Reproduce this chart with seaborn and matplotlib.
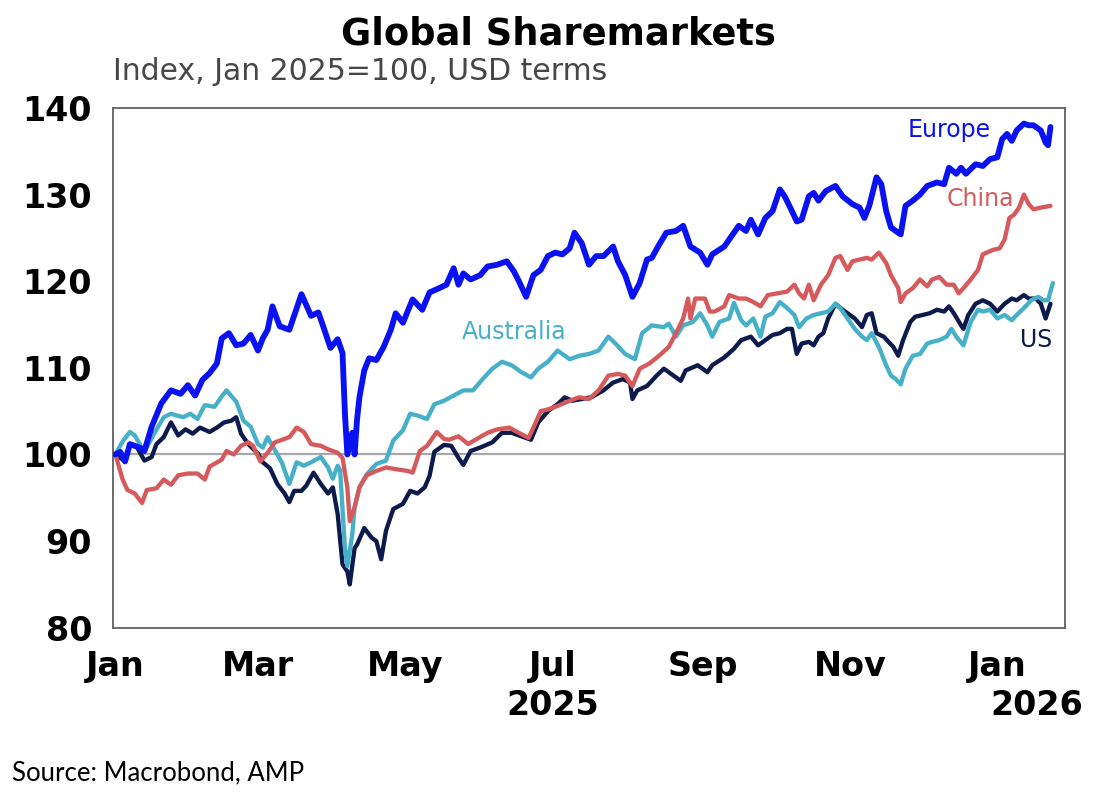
import numpy as np
import pandas as pd
import seaborn as sns
import matplotlib.pyplot as plt
import matplotlib.dates as mdates
import matplotlib.transforms as mtransforms

# index values, Jan 2025 = 100; days counted from 1 Jan 2025
start = pd.Timestamp("2025-01-01")

eu_day = [0, 2, 4, 6, 10, 12, 15, 19, 23, 27, 30, 33, 36, 39, 42, 44, 47, 50, 53, 56,
          59, 61, 63, 65, 68, 72, 77, 81, 84, 86, 89, 92, 94, 95, 96, 98, 99, 100, 101, 103,
          105, 108, 111, 114, 116, 119, 123, 127, 130, 134, 137, 140, 142, 144, 147, 151, 154, 158, 162, 165,
          167, 170, 173, 176, 179, 182, 185, 188, 190, 193, 196, 199, 202, 206, 208, 211, 214, 217, 220, 222,
          225, 228, 232, 235, 238, 242, 245, 247, 252, 256, 258, 261, 263, 266, 269, 272, 275, 277, 280, 282,
          284, 287, 289, 291, 294, 298, 301, 305, 308, 310, 312, 315, 317, 319, 321, 323, 325, 327, 330, 333,
          336, 340, 343, 345, 348, 350, 352, 356, 359, 362, 365, 367, 369, 371, 373, 376, 378, 380, 383, 385,
          386, 387]
eu_val = [100, 100.3, 99.2, 101.2, 100.8, 100.4, 103.2, 105.9, 107.4, 107.0, 108.0, 106.8, 108.6, 109.4, 110.5, 113.4, 114.0, 112.6, 112.8, 113.8,
          112.0, 113.4, 114.4, 117.1, 114.8, 114.4, 118.5, 116.0, 116.4, 114.8, 112.3, 113.3, 111.7, 104.7, 100.0, 102.5, 100.0, 104.0, 106.6, 109.7,
          111.1, 110.9, 112.4, 114.4, 116.3, 115.2, 117.9, 116.7, 118.7, 119.2, 119.6, 121.5, 119.6, 120.9, 120.2, 120.7, 121.7, 121.9, 122.3, 121.1,
          120.0, 118.2, 120.7, 121.3, 122.9, 123.3, 123.1, 123.8, 125.6, 124.4, 121.9, 122.9, 122.9, 124.0, 122.3, 120.7, 118.2, 119.8, 122.5, 122.7,
          124.2, 125.6, 125.8, 126.4, 124.0, 123.3, 121.9, 123.1, 124.0, 125.6, 126.4, 125.8, 127.1, 125.4, 127.3, 128.1, 130.6, 129.8, 128.1, 126.9,
          127.1, 129.8, 130.2, 129.3, 130.4, 131.0, 129.8, 128.9, 128.5, 127.3, 128.7, 132.0, 131.2, 128.1, 126.2, 125.8, 125.4, 128.7, 129.3, 130.0,
          131.0, 131.4, 131.2, 133.1, 132.4, 133.1, 132.4, 133.5, 133.3, 134.1, 134.3, 136.4, 137.0, 136.2, 137.4, 138.2, 138.0, 138.0, 137.4, 136.0,
          135.7, 137.8]

cn_day = [0, 3, 5, 8, 11, 13, 17, 20, 23, 26, 30, 34, 37, 39, 44, 46, 49, 52, 55, 57,
          60, 63, 66, 68, 72, 75, 78, 81, 85, 88, 92, 94, 96, 97, 99, 101, 104, 108, 112, 116,
          121, 123, 126, 129, 133, 136, 138, 142, 146, 149, 154, 158, 163, 167, 171, 174, 176, 179, 183, 188,
          192, 196, 200, 204, 208, 211, 214, 217, 221, 225, 229, 232, 235, 237, 238, 240, 244, 246, 248, 252,
          254, 258, 261, 264, 267, 270, 274, 278, 281, 283, 285, 287, 289, 292, 295, 298, 300, 303, 305, 308,
          311, 313, 316, 319, 321, 324, 325, 327, 330, 333, 336, 338, 341, 344, 347, 349, 351, 354, 357, 359,
          363, 366, 368, 370, 372, 374, 376, 378, 380, 383, 387]
cn_val = [100, 97.1, 95.9, 95.5, 94.4, 95.9, 96.1, 97.1, 96.5, 97.6, 97.8, 97.8, 97.1, 98.6, 99.4, 100.4, 100.0, 101.0, 101.4, 101.0,
          99.2, 100.2, 101.4, 101.6, 102.0, 103.1, 102.6, 101.2, 101.0, 100.6, 100.2, 99.6, 96.2, 92.3, 93.9, 96.2, 97.6, 98.1, 98.5, 98.3,
          98.1, 97.9, 100.4, 101.0, 102.6, 101.8, 101.7, 102.1, 101.2, 101.7, 102.5, 102.9, 103.1, 102.5, 101.9, 103.7, 105.0, 105.2, 105.6, 106.2,
          106.6, 106.4, 107.4, 109.1, 109.3, 109.1, 107.9, 109.9, 110.5, 111.4, 112.4, 114.0, 115.7, 118.0, 115.7, 118.0, 118.0, 116.5, 116.5, 117.1,
          118.4, 118.0, 118.0, 117.6, 117.1, 118.4, 118.6, 118.8, 119.6, 118.6, 118.0, 119.6, 117.8, 119.6, 120.7, 122.7, 122.9, 121.3, 122.3, 122.5,
          122.7, 122.5, 123.3, 122.1, 120.7, 119.2, 117.6, 118.6, 119.2, 120.2, 119.4, 120.2, 120.5, 119.6, 119.6, 118.6, 119.2, 120.2, 121.3, 123.1,
          123.6, 123.8, 124.8, 127.3, 127.7, 128.5, 130.0, 128.9, 128.3, 128.5, 128.7]

au_day = [0, 3, 6, 8, 12, 16, 20, 23, 28, 31, 34, 37, 41, 44, 46, 50, 53, 56, 59, 61,
          63, 67, 69, 72, 75, 78, 81, 85, 88, 90, 92, 93, 95, 96, 98, 99, 101, 104, 108, 112,
          115, 119, 122, 125, 129, 132, 136, 140, 144, 148, 152, 156, 160, 164, 168, 172, 175, 179, 183, 188,
          192, 196, 200, 204, 207, 211, 215, 218, 222, 227, 229, 232, 235, 239, 242, 245, 247, 250, 254, 256,
          259, 261, 264, 267, 269, 272, 275, 278, 281, 283, 286, 289, 292, 295, 298, 300, 303, 306, 309, 311,
          313, 316, 319, 321, 323, 325, 327, 330, 333, 336, 338, 341, 344, 346, 348, 351, 354, 357, 359, 362,
          365, 368, 371, 373, 376, 379, 382, 384, 386, 388]
au_val = [100, 101.5, 102.6, 102.2, 100.3, 102.4, 104.3, 104.7, 104.3, 104.7, 104.1, 105.7, 105.5, 106.7, 107.4, 106.1, 103.9, 103.2, 101.2, 100.8,
          102.0, 100.0, 99.0, 96.6, 99.1, 98.7, 99.1, 99.7, 98.5, 97.2, 98.7, 98.2, 89.2, 87.1, 90.7, 93.9, 96.2, 97.7, 98.9, 99.3,
          101.6, 102.8, 104.7, 104.5, 104.1, 105.8, 106.2, 106.8, 107.4, 107.4, 108.7, 109.9, 110.7, 110.3, 109.5, 108.9, 109.9, 110.7, 112.0, 111.0,
          111.4, 111.6, 112.0, 113.6, 112.8, 111.6, 111.0, 114.0, 114.9, 114.7, 115.1, 113.6, 114.9, 115.3, 116.3, 114.9, 113.6, 115.3, 115.7, 117.5,
          115.5, 114.9, 115.7, 113.6, 115.9, 116.3, 117.6, 116.9, 116.1, 114.7, 115.7, 116.1, 116.3, 116.5, 117.4, 116.9, 115.7, 114.5, 113.6, 113.2,
          114.0, 112.4, 110.3, 109.1, 108.7, 108.1, 109.9, 111.4, 111.6, 112.8, 113.0, 113.2, 113.6, 114.5, 113.6, 112.6, 115.3, 116.7, 116.5, 116.7,
          115.7, 116.1, 115.5, 116.1, 116.9, 117.8, 118.2, 117.8, 117.8, 119.8]

us_day = [0, 4, 6, 9, 12, 15, 17, 20, 23, 26, 29, 32, 35, 39, 42, 45, 48, 50, 52, 55,
          59, 61, 64, 67, 70, 72, 74, 77, 79, 82, 85, 88, 90, 92, 94, 96, 97, 99, 100, 103,
          106, 108, 110, 112, 115, 119, 122, 125, 128, 130, 132, 136, 139, 142, 144, 147, 151, 156, 160, 164,
          168, 172, 175, 179, 183, 186, 189, 193, 197, 202, 206, 210, 213, 214, 216, 220, 224, 227, 230, 234,
          236, 241, 245, 247, 252, 256, 259, 263, 266, 269, 272, 275, 278, 280, 282, 284, 287, 289, 291, 293,
          295, 298, 301, 303, 306, 309, 311, 313, 315, 318, 320, 322, 324, 326, 329, 331, 334, 337, 340, 343,
          345, 347, 350, 351, 353, 356, 359, 362, 365, 368, 371, 373, 376, 378, 381, 383, 385, 387]
us_val = [100, 99.2, 101.2, 100.8, 99.3, 99.7, 101.2, 102.0, 103.7, 102.2, 102.9, 102.4, 103.1, 102.6, 103.1, 103.7, 103.9, 104.3, 102.4, 101.2,
          100.1, 99.1, 98.4, 96.6, 95.5, 94.5, 95.8, 95.8, 96.4, 97.9, 96.6, 95.5, 96.2, 93.1, 87.3, 86.5, 85.0, 89.2, 89.6, 91.5,
          90.4, 90.0, 87.9, 91.2, 93.7, 94.3, 95.8, 95.5, 96.2, 97.5, 100.3, 101.1, 101.0, 99.6, 98.8, 100.4, 100.8, 101.4, 102.5, 102.5,
          102.1, 101.7, 103.7, 105.0, 105.8, 106.6, 106.2, 106.4, 106.6, 107.4, 108.3, 108.7, 108.3, 106.4, 107.4, 107.9, 109.1, 109.9, 109.3, 108.5,
          109.7, 110.3, 109.5, 110.3, 111.2, 112.2, 113.2, 113.6, 112.6, 113.2, 113.8, 114.0, 114.5, 114.5, 111.6, 112.8, 113.0, 112.6, 113.6, 114.0,
          115.7, 117.4, 116.7, 116.3, 115.7, 114.7, 116.1, 116.3, 114.0, 113.6, 113.0, 112.4, 111.4, 113.2, 115.3, 115.9, 116.1, 116.3, 116.7, 116.5,
          117.1, 116.3, 114.9, 114.5, 116.1, 117.4, 117.8, 117.4, 116.5, 117.4, 118.0, 117.8, 118.4, 118.0, 118.0, 117.4, 115.7, 117.4]

markets = ["US", "Australia", "China", "Europe"]
colors = {"US": "#0c1a4c", "Australia": "#46b0c9", "China": "#d65a5c", "Europe": "#0a12f2"}
widths = {"US": 3.1, "Australia": 3.1, "China": 3.1, "Europe": 4.2}


def make_frame(name, days, vals):
    return pd.DataFrame({"date": start + pd.to_timedelta(days, unit="D"),
                         "value": vals, "market": name})


df = pd.concat([make_frame("US", us_day, us_val),
                make_frame("Australia", au_day, au_val),
                make_frame("China", cn_day, cn_val),
                make_frame("Europe", eu_day, eu_val)], ignore_index=True)

sns.set_style("white")
plt.rcParams["font.family"] = ["DejaVu Sans"]
plt.rcParams["text.color"] = "black"
plt.rcParams["xtick.labelcolor"] = "black"
plt.rcParams["ytick.labelcolor"] = "black"

fig = plt.figure(figsize=(11.12, 7.95), dpi=100)
ax = fig.add_axes([0.1016, 0.2104, 0.8561, 0.6538])

ax.axhline(100, color="#a8a8a8", lw=1.6, zorder=1)
for m in markets:
    sns.lineplot(data=df[df["market"] == m], x="date", y="value", color=colors[m],
                 linewidth=widths[m], estimator=None, sort=False, legend=False, ax=ax, zorder=3)

ax.set_ylim(80, 140)
ax.set_xlim(pd.Timestamp("2024-12-31"), pd.Timestamp("2026-01-29"))
ax.set_yticks(range(80, 141, 10))
ax.xaxis.set_major_locator(mdates.MonthLocator(bymonth=[1, 3, 5, 7, 9, 11]))
ax.xaxis.set_major_formatter(mdates.DateFormatter("%b"))
ax.tick_params(axis="y", direction="out", length=7, width=1.2, color="#606060", pad=8, labelsize=24)
ax.tick_params(axis="x", direction="in", length=4, width=1.2, color="#606060", pad=16, labelsize=24)
for lbl in ax.get_xticklabels() + ax.get_yticklabels():
    lbl.set_fontweight("bold")
ax.set_xlabel("")
ax.set_ylabel("")
for s in ax.spines.values():
    s.set_visible(True)
    s.set_color("#606060")
    s.set_linewidth(1.3)

# year labels under the month ticks
trans = mtransforms.blended_transform_factory(ax.transData, fig.transFigure)
ax.text(pd.Timestamp("2025-07-01"), 0.113, "2025", transform=trans, ha="center", va="center",
        fontsize=24, fontweight="bold")
fig.text(0.974, 0.113, "2026", ha="right", va="center", fontsize=24, fontweight="bold")

# series labels
ax.text(start + pd.Timedelta(days=345), 137.5, "Europe", color=colors["Europe"], fontsize=17, ha="center", va="center")
ax.text(start + pd.Timedelta(days=358), 129.5, "China", color=colors["China"], fontsize=17, ha="center", va="center")
ax.text(start + pd.Timedelta(days=165), 114.1, "Australia", color=colors["Australia"], fontsize=17, ha="center", va="center")
ax.text(start + pd.Timedelta(days=381), 113.2, "US", color=colors["US"], fontsize=17, ha="center", va="center")

fig.text(0.5018, 1 - 34 / 795, "Global Sharemarkets", ha="center", va="center", fontsize=26.5, fontweight="bold")
fig.text(113 / 1112, 1 - 72 / 795, "Index, Jan 2025=100, USD terms", ha="left", va="center",
         fontsize=21.5, color="#474747")
fig.text(12 / 1112, 1 - 773 / 795, "Source: Macrobond, AMP", ha="left", va="center",
         fontsize=18.5, family=["Lato", "DejaVu Sans"])

fig.savefig("out.png", dpi=100)
